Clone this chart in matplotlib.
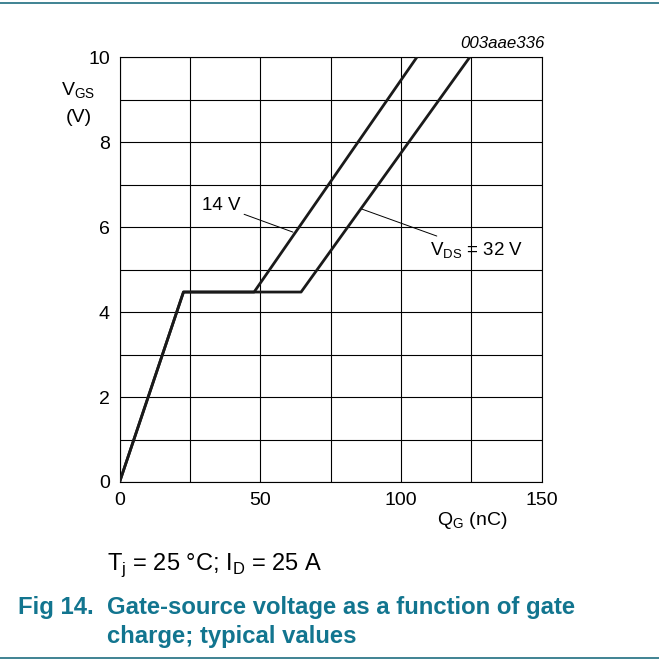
import matplotlib.pyplot as plt
import matplotlib as mpl
from matplotlib.lines import Line2D

mpl.rcParams["font.family"] = ["Liberation Sans", "DejaVu Sans"]

# gate charge (nC) / gate-source voltage (V)
qg_14v = [0, 22.7, 47.8, 105.7]
vgs_14v = [0, 4.47, 4.47, 10]
qg_32v = [0, 22.7, 64.5, 124.5]
vgs_32v = [0, 4.47, 4.47, 10]

x_ticks = [0, 50, 100, 150]
y_ticks = [0, 2, 4, 6, 8, 10]

teal = "#12758f"

fig = plt.figure(figsize=(6.59, 6.60), dpi=100)
ax = fig.add_axes([0.1815, 0.2697, 0.6404, 0.6439])

ax.plot(qg_32v, vgs_32v, color="#1a1a1a", lw=2.0, solid_capstyle="butt", zorder=3)
ax.plot(qg_14v, vgs_14v, color="#1a1a1a", lw=2.0, solid_capstyle="butt", zorder=3)

ax.set_xlim(0, 150)
ax.set_ylim(0, 10)
ax.set_xticks(x_ticks)
ax.set_yticks(y_ticks)
ax.set_xticks(range(0, 151, 25), minor=True)
ax.set_yticks(range(0, 11), minor=True)
ax.grid(which="both", color="black", lw=0.8)
ax.tick_params(which="both", length=0, labelsize=14, pad=7)
for s in ax.spines.values():
    s.set_linewidth(0.8)

# leader lines for labels
ax.annotate("14 V", xy=(61.6, 5.88), xytext=(42.8, 6.5), fontsize=13.5,
            ha="right", va="center",
            arrowprops=dict(arrowstyle="-", lw=0.7, color="black", shrinkA=1, shrinkB=0))
ax.annotate("V$_\\mathregular{DS}$ = 32 V", xy=(86.2, 6.42), xytext=(110.3, 5.45), fontsize=13.5,
            ha="left", va="center",
            arrowprops=dict(arrowstyle="-", lw=0.7, color="black", shrinkA=3, shrinkB=0))

fig.text(0.827, 0.922, "003aae336", fontsize=12.2, style="italic", ha="right", va="bottom")
fig.text(0.119, 0.862, "V$_\\mathregular{GS}$", fontsize=14, ha="center", va="center")
fig.text(0.119, 0.822, "(V)", fontsize=14, ha="center", va="center")
fig.text(0.717, 0.212, "Q$_\\mathregular{G}$ (nC)", fontsize=14, ha="center", va="center")

fig.text(0.162, 0.143, "T$_\\mathregular{j}$ = 25 °C; I$_\\mathregular{D}$ = 25 A",
         fontsize=17, ha="left", va="center")
fig.text(0.027, 0.080, "Fig 14.", fontsize=17.2, weight="bold", color=teal,
         ha="left", va="center")
fig.text(0.162, 0.080, "Gate-source voltage as a function of gate", fontsize=17.2,
         weight="bold", color=teal, ha="left", va="center")
fig.text(0.162, 0.036, "charge; typical values", fontsize=17.2,
         weight="bold", color=teal, ha="left", va="center")

fig.add_artist(Line2D([0, 1], [0.995, 0.995], color="#1f6e80", lw=1.2))
fig.add_artist(Line2D([0, 1], [0.003, 0.003], color="#1f6e80", lw=1.2))

fig.savefig("out.png", dpi=100)
